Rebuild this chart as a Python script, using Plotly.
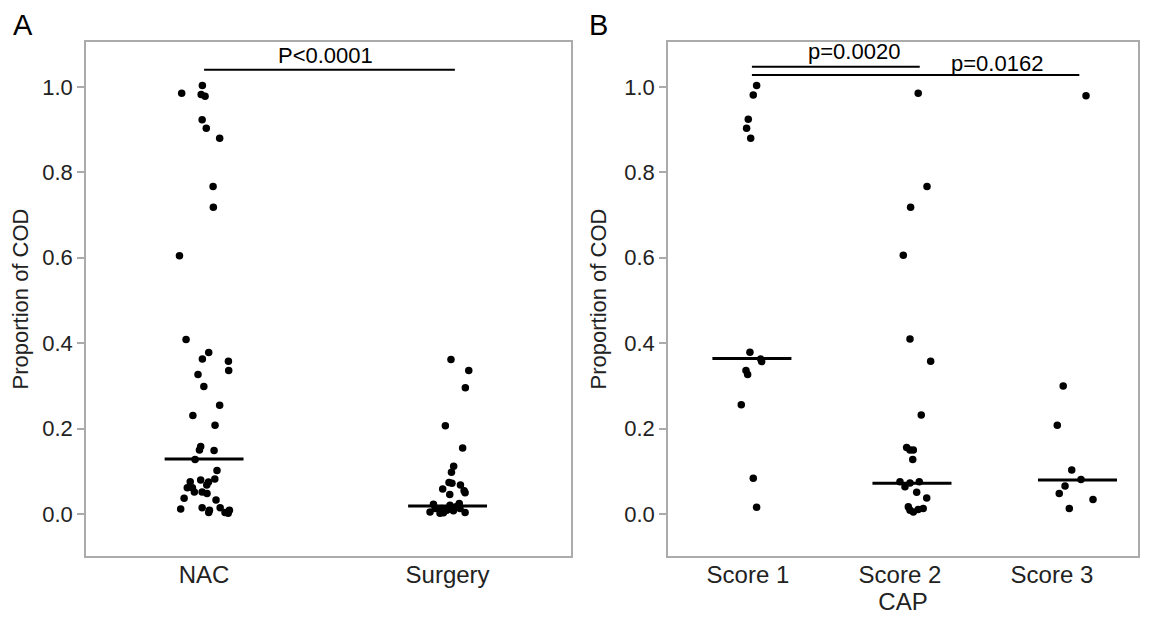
import plotly.graph_objects as go

# ---------------- data ----------------
# Panel A: treatment groups
groups_a = ["NAC", "Surgery"]
nac_values = [0.985, 1.003, 0.982, 0.978, 0.923, 0.903, 0.880, 0.767, 0.718, 0.605,
              0.409, 0.378, 0.363, 0.358, 0.336, 0.327, 0.299, 0.255, 0.231, 0.208,
              0.158, 0.150, 0.149, 0.128, 0.102, 0.076, 0.080, 0.075, 0.082, 0.062,
              0.062, 0.068, 0.052, 0.052, 0.048, 0.037, 0.033, 0.012, 0.015, 0.009,
              0.004, 0.015, 0.004, 0.009, 0.002]
nac_jitter = [-0.092, -0.007, -0.012, 0.004, -0.008, 0.009, 0.064, 0.037, 0.038, -0.101,
              -0.074, 0.019, -0.007, 0.100, 0.101, -0.025, -0.001, 0.064, -0.046, 0.045,
              -0.014, -0.019, 0.041, -0.037, 0.053, -0.057, -0.014, 0.018, 0.044, -0.069,
              -0.048, 0.011, -0.008, -0.040, 0.012, -0.082, 0.049, -0.096, -0.008, 0.022,
              0.019, 0.066, 0.086, 0.104, 0.099]
surgery_values = [0.362, 0.336, 0.296, 0.207, 0.155, 0.112, 0.098, 0.074, 0.072, 0.068,
                  0.059, 0.055, 0.050, 0.046, 0.023, 0.005, 0.013, 0.013, 0.003, 0.021,
                  0.013, 0.008, 0.025, 0.013, 0.004, 0.009, 0.002, 0.017]
surgery_jitter = [0.014, 0.087, 0.073, -0.009, 0.062, 0.025, 0.016, 0.006, 0.018, 0.053,
                  -0.020, 0.068, 0.072, 0.009, -0.058, -0.072, -0.051, -0.024, -0.017, 0.010,
                  0.017, 0.024, 0.048, 0.051, 0.072, -0.003, -0.031, 0.035]
medians_a = [0.129, 0.019]

# Panel B: CAP score groups
groups_b = ["Score 1", "Score 2", "Score 3"]
score1_values = [1.003, 0.981, 0.924, 0.903, 0.880, 0.379, 0.363, 0.357, 0.336, 0.327,
                 0.256, 0.084, 0.016]
score1_jitter = [0.057, 0.035, 0.002, -0.009, 0.018, 0.013, 0.084, 0.090, -0.013, -0.002,
                 -0.044, 0.035, 0.057]
score2_values = [0.985, 0.767, 0.718, 0.606, 0.410, 0.358, 0.232, 0.156, 0.150, 0.150,
                 0.128, 0.076, 0.064, 0.073, 0.076, 0.051, 0.038, 0.017, 0.009, 0.005,
                 0.011, 0.013]
score2_jitter = [0.120, 0.178, 0.070, 0.022, 0.066, 0.202, 0.140, 0.044, 0.066, 0.088,
                 0.084, 0.000, 0.033, 0.066, 0.127, 0.110, 0.176, 0.055, 0.066, 0.088,
                 0.120, 0.153]
score3_values = [0.979, 0.300, 0.208, 0.103, 0.081, 0.066, 0.048, 0.034, 0.013]
score3_jitter = [0.224, 0.074, 0.035, 0.130, 0.191, 0.086, 0.048, 0.270, 0.114]
medians_b = [0.364, 0.072, 0.080]

y_ticks = [0.0, 0.2, 0.4, 0.6, 0.8, 1.0]
pval_a = "P<0.0001"
pvals_b = ["p=0.0020", "p=0.0162"]

# ---------------- layout constants ----------------
FONT = "Liberation Sans, Arial, sans-serif"
OFF = 8  # page body margin of the browser
median_offset_a = [0.0, 0.0]
median_offset_b = [0.026, 0.079, 0.168]
half_a = 0.162
half_b = 0.26

fig = go.Figure()

def add_points(xa, ya, idx, vals, jit):
    fig.add_trace(go.Scatter(
        x=[idx + j for j in jit], y=vals, mode="markers",
        marker=dict(color="black", size=7.5), xaxis=xa, yaxis=ya,
        showlegend=False, hoverinfo="y"))

add_points("x", "y", 0, nac_values, nac_jitter)
add_points("x", "y", 1, surgery_values, surgery_jitter)
add_points("x2", "y2", 0, score1_values, score1_jitter)
add_points("x2", "y2", 1, score2_values, score2_jitter)
add_points("x2", "y2", 2, score3_values, score3_jitter)

# median lines
for i, m in enumerate(medians_a):
    c = i + median_offset_a[i]
    fig.add_shape(type="line", xref="x", yref="y", x0=c - half_a, x1=c + half_a,
                  y0=m, y1=m, line=dict(color="black", width=3))
for i, m in enumerate(medians_b):
    c = i + median_offset_b[i]
    fig.add_shape(type="line", xref="x2", yref="y2", x0=c - half_b, x1=c + half_b,
                  y0=m, y1=m, line=dict(color="black", width=3))

# significance bars
PF = dict(family=FONT, size=22, color="black")
fig.add_shape(type="line", xref="x", yref="y", x0=0.0, x1=1.03, y0=1.04, y1=1.04,
              line=dict(color="black", width=2))
fig.add_annotation(xref="x", yref="y", x=0.497, y=1.073, text=pval_a, showarrow=False, font=PF)
fig.add_shape(type="line", xref="x2", yref="y2", x0=0.026, x1=1.13, y0=1.047, y1=1.047,
              line=dict(color="black", width=2))
fig.add_shape(type="line", xref="x2", yref="y2", x0=0.026, x1=2.18, y0=1.028, y1=1.028,
              line=dict(color="black", width=2))
fig.add_annotation(xref="x2", yref="y2", x=0.70, y=1.082, text=pvals_b[0], showarrow=False, font=PF)
fig.add_annotation(xref="x2", yref="y2", x=1.64, y=1.054, text=pvals_b[1], showarrow=False, font=PF)

W, H = 1155, 618

def px(x):
    return (x - OFF) / W

def py(y):
    return 1 - (y - OFF) / H

# panel letters
for letter, cx in (("A", 22.5), ("B", 598)):
    fig.add_annotation(xref="paper", yref="paper", x=px(cx), y=py(25), text=letter,
                       xanchor="center", yanchor="middle", showarrow=False,
                       font=dict(family=FONT, size=29, color="black"))

ydom = [py(556), py(42)]
axis_line = dict(showline=True, linecolor="#ababab", linewidth=1.5, mirror=True,
                 showgrid=False, zeroline=False)
yaxis_common = dict(range=[-0.098, 1.105], tickvals=y_ticks, tickformat=".1f",
                    ticks="outside", ticklen=7, tickcolor="#ababab", tickwidth=1.5,
                    tickfont=dict(family=FONT, size=22, color="#222"),
                    title=dict(text="Proportion of COD",
                               font=dict(family=FONT, size=22, color="#222"), standoff=12),
                    domain=ydom, **axis_line)
xtickfont = dict(family=FONT, size=24, color="#222")

fig.update_layout(
    width=W, height=H, margin=dict(l=0, r=0, t=0, b=0),
    paper_bgcolor="white", plot_bgcolor="white",
    xaxis=dict(domain=[px(86), px(571)], range=[-0.485, 1.507], tickvals=[0, 1],
               ticktext=groups_a, ticks="", tickfont=xtickfont, ticklabelstandoff=-4,
               **axis_line),
    yaxis=dict(anchor="x", **yaxis_common),
    xaxis2=dict(domain=[px(668), px(1138)], range=[-0.526, 2.566], tickvals=[0, 1, 2],
                ticktext=groups_b, ticks="", anchor="y2", tickfont=xtickfont,
                ticklabelstandoff=-4,
                title=dict(text="CAP", font=dict(family=FONT, size=24, color="#222"),
                           standoff=0),
                **axis_line),
    yaxis2=dict(anchor="x2", **yaxis_common),
)

fig.write_html("out.html")
